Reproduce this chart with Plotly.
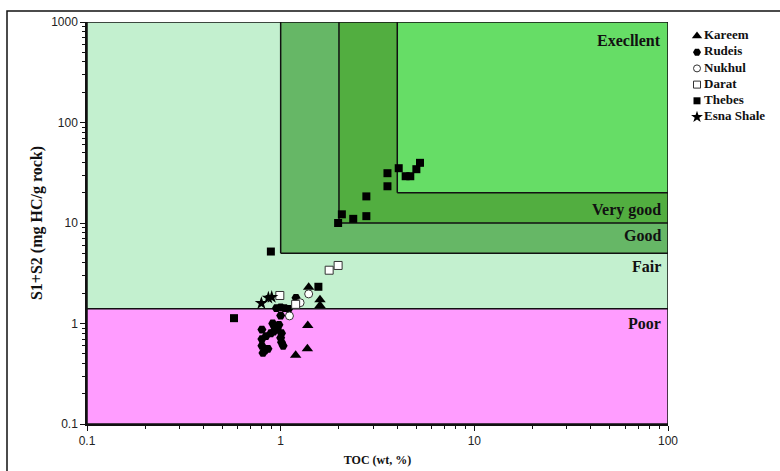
import plotly.graph_objects as go
import math

# ---- data ----
kareem_x = [1.395, 1.596, 1.596, 1.38, 1.195, 1.374]
kareem_y = [2.30, 1.72, 1.51, 0.955, 0.484, 0.56]

rudeis_x = [1.0, 1.05, 1.1, 0.95, 1.2, 1.0, 0.91, 0.93, 0.80, 0.89, 0.96, 1.01, 0.80, 0.84,
            1.01, 1.03, 0.80, 0.83, 0.81, 0.86, 1.0, 0.92, 0.98]
rudeis_y = [1.45, 1.42, 1.40, 1.42, 1.80, 1.20, 1.00, 0.93, 0.87, 0.80, 0.88, 0.80, 0.70, 0.75,
            0.65, 0.60, 0.60, 0.54, 0.51, 0.56, 0.72, 0.83, 0.97]

nukhul_x = [1.395, 1.26, 1.11]
nukhul_y = [1.97, 1.61, 1.19]

darat_x = [0.99, 1.78, 1.98, 1.195]
darat_y = [1.90, 3.39, 3.78, 1.55]

thebes_x = [0.89, 0.574, 1.566, 1.98, 2.07, 2.37, 2.77, 2.77, 3.56, 3.56, 4.07, 4.42, 4.67, 5.02, 5.24]
thebes_y = [5.2, 1.13, 2.32, 10.0, 12.2, 11.0, 11.7, 18.4, 23.2, 31.3, 35.1, 29.2, 29.2, 34.3, 39.7]

esna_x = [0.795, 0.864, 0.899]
esna_y = [1.59, 1.80, 1.83]

# zones
zone_names = ["Fair", "Poor", "Good", "Very good", "Execllent"]
zone_x0 = [0.1, 0.1, 1.0, 2.0, 4.0]
zone_x1 = [100, 100, 100, 100, 100]
zone_y0 = [1.4, 0.1, 5.0, 10.0, 20.0]
zone_y1 = [1000, 1.4, 1000, 1000, 1000]
zone_colors = ["#c3f0cf", "#ff9cff", "#66b766", "#52ae40", "#66dd66"]

label_text = ["Execllent", "Very good", "Good", "Fair", "Poor"]
label_y = [650, 13.6, 7.5, 3.7, 1.0]

fig = go.Figure()

for i in range(len(zone_names)):
    xs = [zone_x0[i], zone_x1[i], zone_x1[i], zone_x0[i], zone_x0[i]]
    ys = [zone_y0[i], zone_y0[i], zone_y1[i], zone_y1[i], zone_y0[i]]
    fig.add_trace(go.Scatter(x=xs, y=ys, mode="lines", fill="toself",
                             fillcolor=zone_colors[i],
                             line=dict(color="#111111", width=1.5),
                             showlegend=False, hoverinfo="skip"))

series = [
    ("Kareem", kareem_x, kareem_y, dict(symbol="triangle-up", color="black", size=10)),
    ("Rudeis", rudeis_x, rudeis_y, dict(symbol="hexagon2", color="black", size=9)),
    ("Nukhul", nukhul_x, nukhul_y, dict(symbol="circle", color="white", size=8,
                                        line=dict(color="#333333", width=1))),
    ("Darat", darat_x, darat_y, dict(symbol="square", color="white", size=8,
                                     line=dict(color="#333333", width=1))),
    ("Thebes", thebes_x, thebes_y, dict(symbol="square", color="black", size=8)),
    ("Esna Shale", esna_x, esna_y, dict(symbol="star", color="black", size=10)),
]
for name, xs, ys, m in series:
    fig.add_trace(go.Scatter(x=xs, y=ys, mode="markers", name=name, marker=m,
                             showlegend=False))

# manual legend on a helper axis pair (pixel-like units)
leg_y = [36 + 16.2 * i for i in range(len(series))]
for (name, xs, ys, m), ly in zip(series, leg_y):
    lm = dict(m)
    lm["size"] = max(m["size"] - 1, 7)
    fig.add_trace(go.Scatter(x=[29], y=[ly], mode="markers", marker=lm,
                             xaxis="x2", yaxis="y2", showlegend=False, hoverinfo="skip",
                             cliponaxis=False))
    fig.add_trace(go.Scatter(x=[36], y=[ly], mode="text", text=["<b>" + name + "</b>"],
                             textposition="middle right",
                             textfont=dict(family="Liberation Serif", size=13, color="#111111"),
                             xaxis="x2", yaxis="y2", showlegend=False, hoverinfo="skip",
                             cliponaxis=False))

for t, yv in zip(label_text, label_y):
    fig.add_annotation(x=2, y=math.log10(yv), xref="x", yref="y", text="<b>" + t + "</b>",
                       showarrow=False, xanchor="right", yanchor="middle", xshift=-5,
                       font=dict(family="Liberation Serif", size=16, color="#111111"))

serif = "Liberation Serif"
tickfont = dict(family="Liberation Sans", size=12, color="#222222")
minor_x = [m * 10 ** k for k in (-1, 0, 1) for m in range(2, 10)]
minor_y = [m * 10 ** k for k in (-1, 0, 1, 2) for m in range(2, 10)]

fig.update_layout(
    xaxis=dict(type="log", range=[-1, 2], domain=[0, 581 / 693], automargin=False,
               tickvals=[0.1, 1, 10, 100], ticktext=["0.1", "1", "10", "100"],
               ticks="outside", ticklen=5, tickcolor="#111111", showline=True,
               linecolor="#111111", linewidth=1.5, showgrid=False, zeroline=False,
               tickfont=tickfont,
               minor=dict(tickvals=minor_x, ticks="outside", ticklen=3, tickcolor="#111111",
                          showgrid=False),
               title=dict(text="<b>TOC (wt, %)</b>",
                          font=dict(family=serif, size=12, color="#111111"), standoff=8)),
    yaxis=dict(type="log", range=[-1, 3], automargin=False,
               tickvals=[0.1, 1, 10, 100, 1000], ticktext=["0.1", "1", "10", "100", "1000"],
               ticks="outside", ticklen=5, tickcolor="#111111", showline=True,
               linecolor="#111111", linewidth=1.5, showgrid=False, zeroline=False,
               tickfont=tickfont,
               minor=dict(tickvals=minor_y, ticks="outside", ticklen=3, tickcolor="#111111",
                          showgrid=False),
               title=dict(text="<b>S1+S2 (mg HC/g rock)</b>",
                          font=dict(family=serif, size=16, color="#111111"), standoff=5)),
    xaxis2=dict(domain=[581 / 693, 1], range=[0, 112], visible=False, anchor="y2",
                fixedrange=True),
    yaxis2=dict(domain=[0, 1], range=[424, 22], visible=False, anchor="x2",
                fixedrange=True),
    width=780, height=471,
    margin=dict(l=87, r=0, t=22, b=47),
    paper_bgcolor="white", plot_bgcolor="white",
    showlegend=False,
)

# outer frame
fig.add_shape(type="rect", xref="paper", yref="paper", x0=-80 / 693, x1=1.5,
              y0=-0.5, y1=1 + 11 / 402,
              line=dict(color="#111111", width=1.5), fillcolor="rgba(0,0,0,0)", layer="above")

fig.write_html("out.html", config={"displayModeBar": False},
               post_script="document.body.style.margin='0';document.body.style.overflow='hidden';")
